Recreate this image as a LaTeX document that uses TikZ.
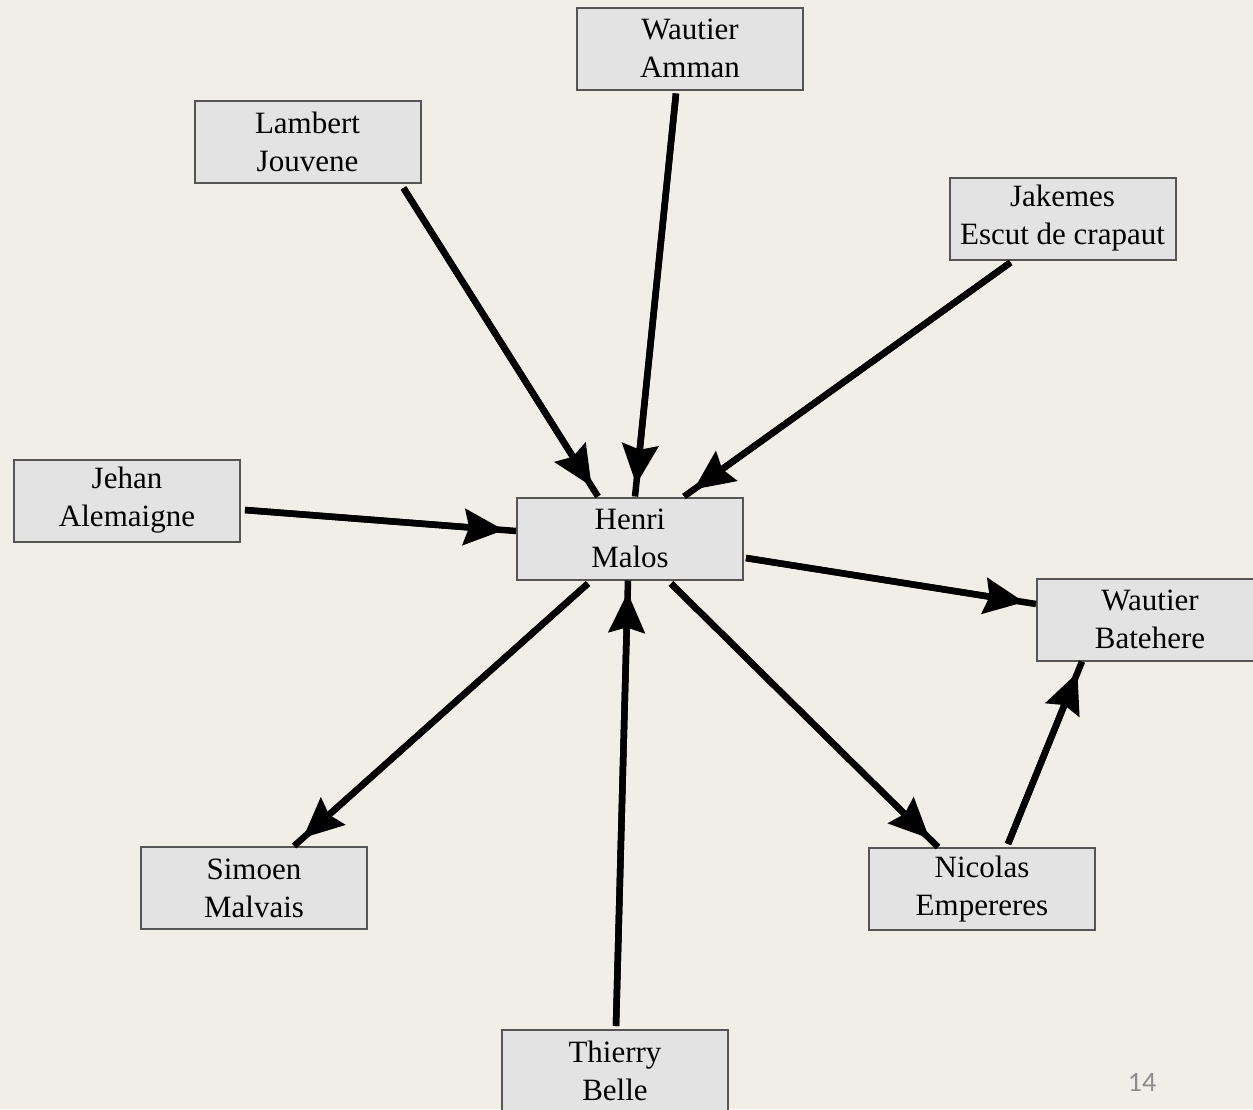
\documentclass[tikz,border=0pt]{standalone}
\usepackage{fontspec}
\setmainfont{Liberation Serif}
\newfontfamily\numfont{Carlito}
\usetikzlibrary{arrows.meta}
\definecolor{parchment}{RGB}{241,238,232}
\definecolor{boxfill}{RGB}{227,227,227}
\definecolor{boxline}{RGB}{85,85,85}
\definecolor{pagenum}{RGB}{140,140,140}
\begin{document}
\begin{tikzpicture}[x=1pt,y=-1pt,
  person/.style={draw=boxline, line width=2pt, fill=boxfill, inner sep=0pt,
    minimum width=226pt, minimum height=82pt, align=center,
    font=\fontsize{31}{38}\selectfont},
  % the line runs on to the box; the head sits a little before its end
  link/.style={line width=6.5pt,
    postaction={draw, line width=6.5pt, shorten >=12pt,
      -{Stealth[length=40pt,width=36pt,inset=5pt]}}}]
  % background
  \fill[parchment] (0,0) rectangle (1253,1109);
  \useasboundingbox (0,0) rectangle (1253,1109);
  \begin{scope}
  \clip (0,0) rectangle (1253,1109);
  % people
  \node[person] (amman)   at (690,48.5)   {Wautier\\Amman};
  \node[person] (lambert) at (307.5,142)  {Lambert\\Jouvene};
  \node[person] (jakemes) at (1062.5,218.5) {Jakemes\\Escut de crapaut};
  \node[person] (jehan)   at (127,500.5)  {Jehan\\Alemaigne};
  \node[person] (henri)   at (630,538.5)  {Henri\\Malos};
  \node[person] (bateh)   at (1150,619.5) {Wautier\\Batehere};
  \node[person] (simoen)  at (254,888)    {Simoen\\Malvais};
  \node[person] (nicolas) at (982,889)    {Nicolas\\Empereres};
  \node[person] (thierry) at (615,1071)   {Thierry\\Belle};
  % connectors
  \draw[link] ([xshift=-18pt,yshift=-4pt]lambert.south east) -- ([xshift=-32pt]henri.north);
  \draw[link] ([xshift=-14pt,yshift=-3pt]amman.south) -- ([xshift=5pt]henri.north);
  \draw[link] ([xshift=-52pt,yshift=-2pt]jakemes.south) -- ([xshift=54pt]henri.north);
  \draw[link] ([xshift=4pt,yshift=-9.5pt]jehan.east) -- ([yshift=7.5pt]henri.west);
  \draw[link] ([xshift=2pt,yshift=-19.5pt]henri.east) -- ([yshift=15.5pt]bateh.west);
  \draw[link] ([xshift=-42pt,yshift=-3pt]henri.south) -- ([xshift=40pt]simoen.north);
  \draw[link] ([xshift=1pt,yshift=3pt]thierry.north) -- ([xshift=-2pt]henri.south);
  \draw[link] ([xshift=41pt,yshift=-3pt]henri.south) -- ([xshift=-44pt]nicolas.north);
  \draw[link] ([xshift=26pt,yshift=3pt]nicolas.north) -- ([xshift=-68pt]bateh.south);
  \end{scope}
  % page number
  \node[text=pagenum, font=\numfont\fontsize{28}{30}\selectfont] (page) at (1142,1082) {14};
\end{tikzpicture}
\end{document}
